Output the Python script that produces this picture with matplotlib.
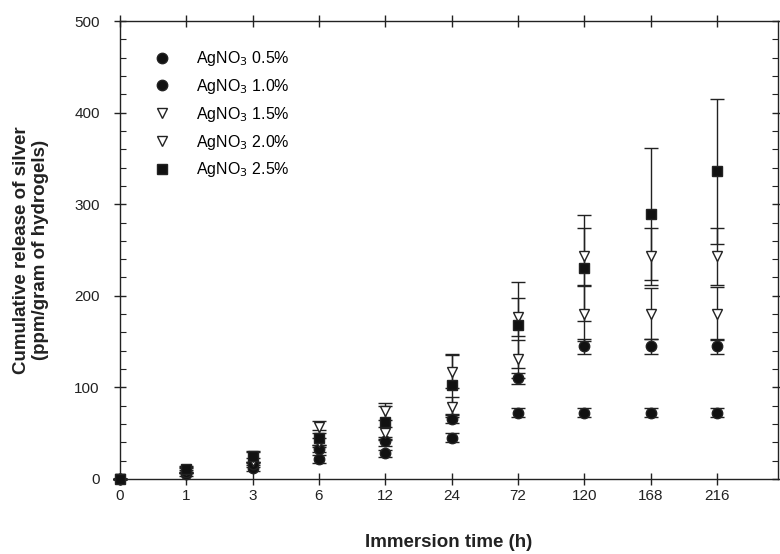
import numpy as np
import matplotlib.pyplot as plt
from matplotlib.lines import Line2D
from matplotlib.ticker import MultipleLocator

plt.rcParams['font.family'] = ['Liberation Sans', 'DejaVu Sans']

times = ['0', '1', '3', '6', '12', '24', '72', '120', '168', '216']

ag05 = [0, 5, 12, 22, 28, 45, 72.5, 72.5, 72.5, 72.5]
ag05_err = [0, 2, 3, 4, 4, 5, 5, 5, 5, 5]
ag10 = [0, 8, 16, 33, 41, 66, 110, 145, 145, 145]
ag10_err = [0, 2, 3, 4, 5, 5, 6, 8, 8, 8]
ag15 = [0, 10, 20, 40, 50, 79, 131, 180.5, 180.5, 180.5]
ag15_err = [0, 2, 3, 5, 7, 11, 21, 30, 28, 29]
ag20 = [0, 10, 24, 57, 74, 117, 177, 243, 243, 243]
ag20_err = [0, 3, 5, 6.5, 9.5, 18, 21, 31, 31, 31]
ag25 = [0, 11, 25, 45, 62, 103, 168, 230, 289, 336]
ag25_err = [0, 3, 6, 8, 18, 33, 47, 58, 72, 79]

labels = ['AgNO$_3$ 0.5%', 'AgNO$_3$ 1.0%', 'AgNO$_3$ 1.5%',
          'AgNO$_3$ 2.0%', 'AgNO$_3$ 2.5%']
markers = ['o', 'o', 'v', 'v', 's']
faces = ['#111111', '#111111', 'white', 'white', '#111111']
sizes = [7.5, 7.5, 7.5, 7.5, 7]

ink = '#222222'
fig = plt.figure(figsize=(7.8, 5.54), dpi=100)
ax = fig.add_axes([0.1538, 0.1354, 0.8436, 0.8266])

x = np.arange(len(times))
series = [(ag05, ag05_err), (ag10, ag10_err), (ag15, ag15_err),
          (ag20, ag20_err), (ag25, ag25_err)]
for (y, e), m, fc, ms in zip(series, markers, faces, sizes):
    ax.errorbar(x, y, yerr=e, fmt=m, ms=ms, mfc=fc, mec=ink, mew=1.0,
                ecolor=ink, elinewidth=1.0, capsize=5, capthick=1.0,
                clip_on=False, zorder=3)

ax.set_xlim(0, 9.92)
ax.set_ylim(0, 500)
ax.set_xticks(x)
ax.set_xticklabels(times)
ax.yaxis.set_major_locator(MultipleLocator(100))
ax.yaxis.set_minor_locator(MultipleLocator(20))

for s in ax.spines.values():
    s.set_color(ink)
    s.set_linewidth(1.0)
ax.tick_params(axis='both', which='major', direction='inout', length=9,
               width=1.0, color=ink, labelsize=11, labelcolor='#222222')
ax.tick_params(axis='x', top=True, pad=3)
ax.tick_params(axis='y', right=True, pad=10)
ax.tick_params(axis='y', which='minor', direction='in', length=4, width=0.8,
               color=ink, right=True)

ax.set_xlabel('Immersion time (h)', fontsize=13.5, fontweight='bold',
              labelpad=22, color='#222222')
ax.set_ylabel('Cumulative release of silver\n(ppm/gram of hydrogels)',
              fontsize=13.5, fontweight='bold', labelpad=18, color='#222222')

handles = [Line2D([], [], ls='none', marker=m, ms=ms, mfc=fc, mec=ink, mew=1.0)
           for m, fc, ms in zip(markers, faces, sizes)]
ax.legend(handles, labels, loc='upper left', bbox_to_anchor=(0.03, 0.97),
          frameon=False, fontsize=11.5, handlelength=1.0, handletextpad=1.6,
          labelspacing=0.55)

fig.savefig('out.png', dpi=100)
